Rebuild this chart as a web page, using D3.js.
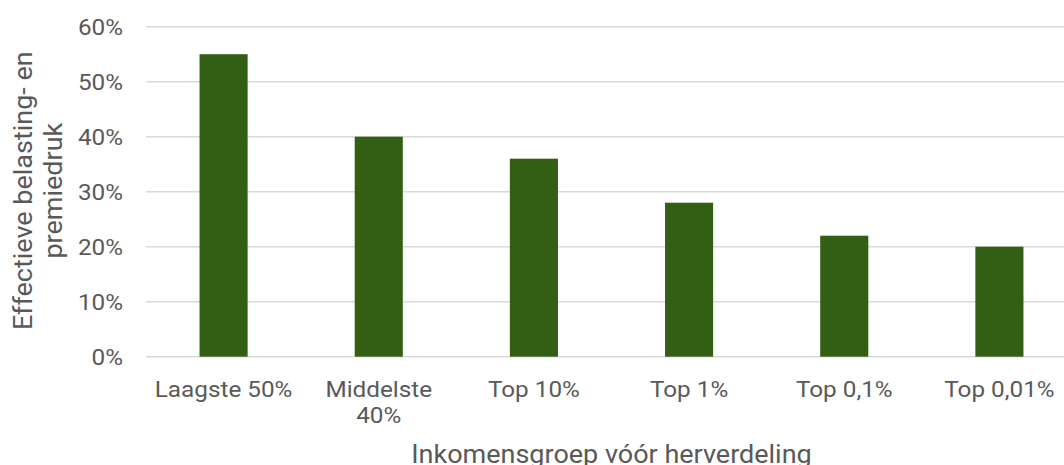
<!DOCTYPE html>
<html><head><meta charset="utf-8">
<script src="https://cdn.jsdelivr.net/npm/d3@7"></script>
<style>body{margin:0;background:#fff}svg{display:block}text{font-family:Roboto,"Noto Sans",sans-serif;fill:#595959}</style>
</head><body>
<svg id="c" width="1064" height="465"></svg>
<script>
const categories = [["Laagste 50%"], ["Middelste", "40%"], ["Top 10%"], ["Top 1%"], ["Top 0,1%"], ["Top 0,01%"]];
const values = [0.55, 0.40, 0.36, 0.28, 0.22, 0.20];
const yTicks = [0, 0.1, 0.2, 0.3, 0.4, 0.5, 0.6];
const xTitle = "Inkomensgroep vóór herverdeling";
const yTitle = ["Effectieve belasting- en", "premiedruk"];

(function () {
const svg = d3.select("#c");
const pL = 146, pR = 1077, pT = 26.7, pB = 356.7;
const sx = 1.08;
const keys = categories.map(c => c.join(" "));
const x = d3.scaleBand().domain(keys).range([pL, pR]).paddingInner(0.69).paddingOuter(0.345);
const y = d3.scaleLinear().domain([0, 0.6]).range([pB, pT]);

svg.append("g").selectAll("line").data(yTicks).join("line")
  .attr("x1", pL).attr("x2", pR)
  .attr("y1", d => y(d)).attr("y2", d => y(d))
  .attr("stroke", "#d9d9d9").attr("stroke-width", 1.5);

svg.append("g").selectAll("text").data(yTicks).join("text")
  .attr("transform", d => `translate(123,${y(d)}) scale(${sx},1)`)
  .attr("dy", "0.36em")
  .attr("text-anchor", "end").attr("font-size", 22.5)
  .text(d => d3.format(".0%")(d));

svg.append("g").selectAll("rect").data(values).join("rect")
  .attr("x", (d, i) => x(keys[i])).attr("width", x.bandwidth())
  .attr("y", d => y(d)).attr("height", d => y(0) - y(d))
  .attr("fill", "#335f14");

const cl = svg.append("g").selectAll("text").data(categories).join("text")
  .attr("text-anchor", "middle").attr("font-size", 22.5)
  .attr("transform", (d, i) => `translate(${x(keys[i]) + x.bandwidth() / 2},396.5) scale(${sx},1)`);
cl.selectAll("tspan").data(d => d).join("tspan")
  .attr("x", 0).attr("y", (d, j) => j * 27).text(d => d);

svg.append("text")
  .attr("transform", `translate(${(pL + pR) / 2},463) scale(${sx},1)`)
  .attr("text-anchor", "middle").attr("font-size", 25).text(xTitle);

const yt = svg.append("text").attr("text-anchor", "middle").attr("font-size", 25)
  .attr("transform", `translate(0,${(pT + pB) / 2 - 1}) rotate(-90) scale(${sx},1)`);
yt.selectAll("tspan").data(yTitle).join("tspan")
  .attr("x", 0).attr("y", (d, j) => 32 + j * 30).text(d => d);
})();
</script>
</body></html>
